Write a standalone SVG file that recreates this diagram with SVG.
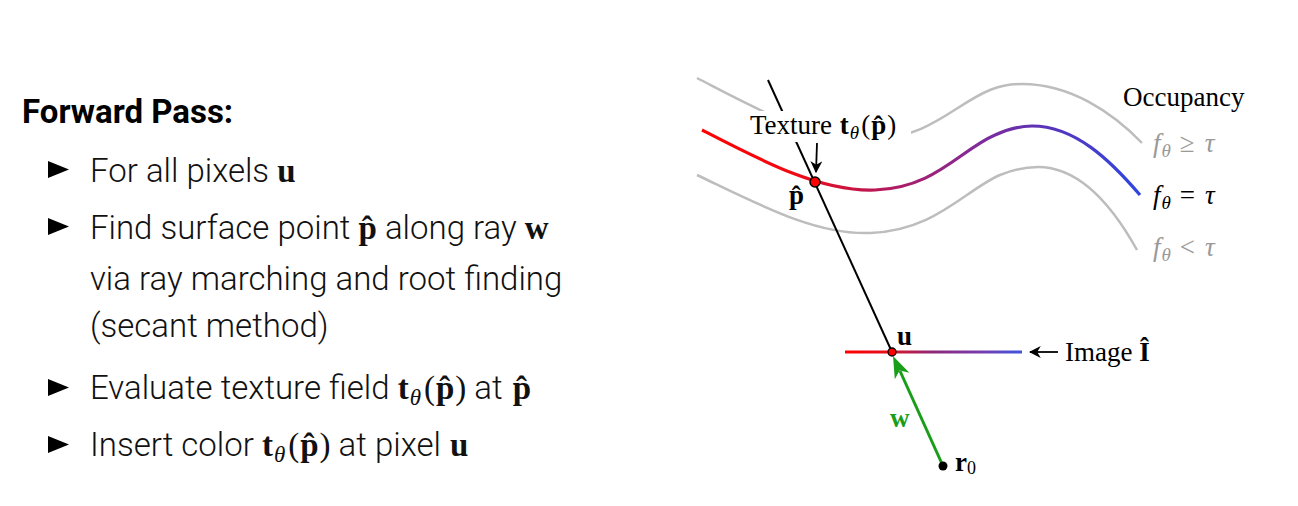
<svg xmlns="http://www.w3.org/2000/svg" width="1298" height="506" viewBox="0 0 1298 506">
<style>
.title{font-family:Roboto,"Liberation Sans",sans-serif;font-weight:700;font-size:33px;fill:#000}
.bt{font-family:Roboto,"Liberation Sans",sans-serif;font-weight:300;font-size:33px;fill:#111}
.m{font-family:"Liberation Serif",serif;font-weight:700}
.bt .m{font-size:33px}
.mi{font-family:"Liberation Serif",serif;font-style:italic;font-weight:400}
.mr{font-family:"Liberation Serif",serif;font-weight:400}
.lbl{font-family:"Liberation Serif",serif;font-size:27px;fill:#000}
.gray{fill:#9a9a9a}
.gc{fill:none;stroke:#bdbdbd;stroke-width:2.5}
</style>
<defs>
<linearGradient id="gCurve" gradientUnits="userSpaceOnUse" x1="702" y1="0" x2="1140" y2="0">
<stop offset="0" stop-color="#ff0000"/>
<stop offset="0.22" stop-color="#f00a14"/>
<stop offset="0.4" stop-color="#b81858"/>
<stop offset="0.62" stop-color="#842a98"/>
<stop offset="0.78" stop-color="#5a34b8"/>
<stop offset="1" stop-color="#2e46e0"/>
</linearGradient>
<linearGradient id="gImg" gradientUnits="userSpaceOnUse" x1="845" y1="0" x2="1022" y2="0">
<stop offset="0" stop-color="#ff0000"/>
<stop offset="0.25" stop-color="#e01020"/>
<stop offset="0.5" stop-color="#8a2a7a"/>
<stop offset="0.75" stop-color="#7a3aa8"/>
<stop offset="1" stop-color="#4055e0"/>
</linearGradient>
<marker id="ah" viewBox="0 0 10 10" refX="9" refY="5" markerWidth="12" markerHeight="12" orient="auto" markerUnits="userSpaceOnUse">
<path d="M0,0 L10,5 L0,10 L3,5 Z" fill="#000"/>
</marker>
</defs>
<rect width="1298" height="506" fill="#fff"/>

<g id="text-panel">
<text class="title" x="22" y="123">Forward Pass:</text>
<polygon points="48,161 69,169.5 48,178" fill="#000"/>
<text class="bt" x="90" y="182">For all pixels <tspan class="m">u</tspan></text>
<polygon points="48,218 69,226.5 48,235" fill="#000"/>
<text class="bt" x="90" y="239">Find surface point <tspan class="m">p̂</tspan> along ray <tspan class="m">w</tspan></text>
<text class="bt" x="90" y="290">via ray marching and root finding</text>
<text class="bt" x="90" y="337">(secant method)</text>
<polygon points="48,379 69,387.5 48,396" fill="#000"/>
<text class="bt" x="90" y="399">Evaluate texture field <tspan class="m">t</tspan><tspan class="mi" font-size="23" dx="1" dy="6">θ</tspan><tspan class="mr" dx="3" dy="-6">(</tspan><tspan class="m" dx="1">p̂</tspan><tspan class="mr" dx="1">)</tspan> at <tspan class="m" dx="2">p̂</tspan></text>
<polygon points="48,436 69,444.5 48,453" fill="#000"/>
<text class="bt" x="90" y="456">Insert color <tspan class="m">t</tspan><tspan class="mi" font-size="23" dx="1" dy="6">θ</tspan><tspan class="mr" dx="3" dy="-6">(</tspan><tspan class="m" dx="1">p̂</tspan><tspan class="mr" dx="1">)</tspan> at pixel <tspan class="m" dx="1">u</tspan></text>
</g>

<g id="level-curves">
<path id="curve-above" class="gc" d="M697,78 C755,108 815,142 870,140 C930,138 955,104 990,90 C1003,85 1012,84 1022,84 C1070,84 1112,112 1142,143"/>
<path id="curve-below" class="gc" d="M697,175 C760,205 815,235 870,233 C935,231 965,190 1000,175 C1015,169 1025,167 1038,167 C1080,167 1112,205 1137,250"/>
<path id="surface" fill="none" stroke="url(#gCurve)" stroke-width="3.2" d="M702,130 C760,160 820,192 875,190 C935,188 960,150 995,135 C1010,128 1020,126 1032,126 C1075,126 1110,160 1140,195"/>
</g>

<g id="connectors">
<line x1="768" y1="80" x2="892" y2="352" stroke="#000" stroke-width="2"/>
<line x1="943" y1="466" x2="900" y2="371" stroke="#1a9e1a" stroke-width="3"/>
<polygon points="893,356 909.4,372.7 899.6,370.6 894.8,379.3" fill="#1a9e1a"/>
<line x1="817" y1="143" x2="816" y2="172" stroke="#000" stroke-width="1.8" marker-end="url(#ah)"/>
<line x1="1058" y1="352" x2="1030" y2="352" stroke="#000" stroke-width="1.8" marker-end="url(#ah)"/>
</g>

<g id="texture-label">
<rect x="745" y="111" width="166" height="31" fill="#fff"/>
<text class="lbl" x="750" y="134">Texture <tspan class="m" dx="1">t</tspan><tspan class="mi" font-size="19" dx="1" dy="5">θ</tspan><tspan dx="2" dy="-5">(</tspan><tspan class="m" dx="1">p̂</tspan><tspan dx="1">)</tspan></text>
</g>

<g id="image-plane">
<line x1="845" y1="352" x2="1022" y2="352" stroke="url(#gImg)" stroke-width="3.2"/>
<text class="lbl" x="1065" y="361" font-size="26">Image <tspan class="m">Î</tspan></text>
</g>

<g id="point-p">
<circle cx="815" cy="182" r="5" fill="#ff0000" stroke="#000" stroke-width="1.5"/>
<text class="lbl m" x="789" y="204">p̂</text>
</g>

<g id="point-u">
<circle cx="892" cy="352" r="4" fill="#ff0000" stroke="#000" stroke-width="1.3"/>
<text class="lbl m" x="897" y="345">u</text>
</g>

<g id="ray-w">
<text class="lbl m" x="890" y="427" style="fill:#1a9e1a">w</text>
</g>

<g id="origin-r0">
<circle cx="943" cy="466" r="4.5" fill="#000"/>
<text class="lbl" x="955" y="471"><tspan class="m">r</tspan><tspan font-size="18" dy="3">0</tspan></text>
</g>

<g id="legend">
<text class="lbl" x="1123" y="106">Occupancy</text>
<text class="lbl gray" x="1153" y="152"><tspan class="mi">f</tspan><tspan class="mi" font-size="19" dx="1" dy="5">θ</tspan><tspan dx="9" dy="-5">≥</tspan><tspan class="mi" dx="10">τ</tspan></text>
<text class="lbl" x="1153" y="204"><tspan class="mi" font-weight="700">f</tspan><tspan class="mi" font-weight="700" font-size="19" dx="1" dy="5">θ</tspan><tspan dx="9" dy="-5">=</tspan><tspan class="mi" font-weight="700" dx="10">τ</tspan></text>
<text class="lbl gray" x="1153" y="256"><tspan class="mi">f</tspan><tspan class="mi" font-size="19" dx="1" dy="5">θ</tspan><tspan dx="9" dy="-5">&lt;</tspan><tspan class="mi" dx="10">τ</tspan></text>
</g>
</svg>
